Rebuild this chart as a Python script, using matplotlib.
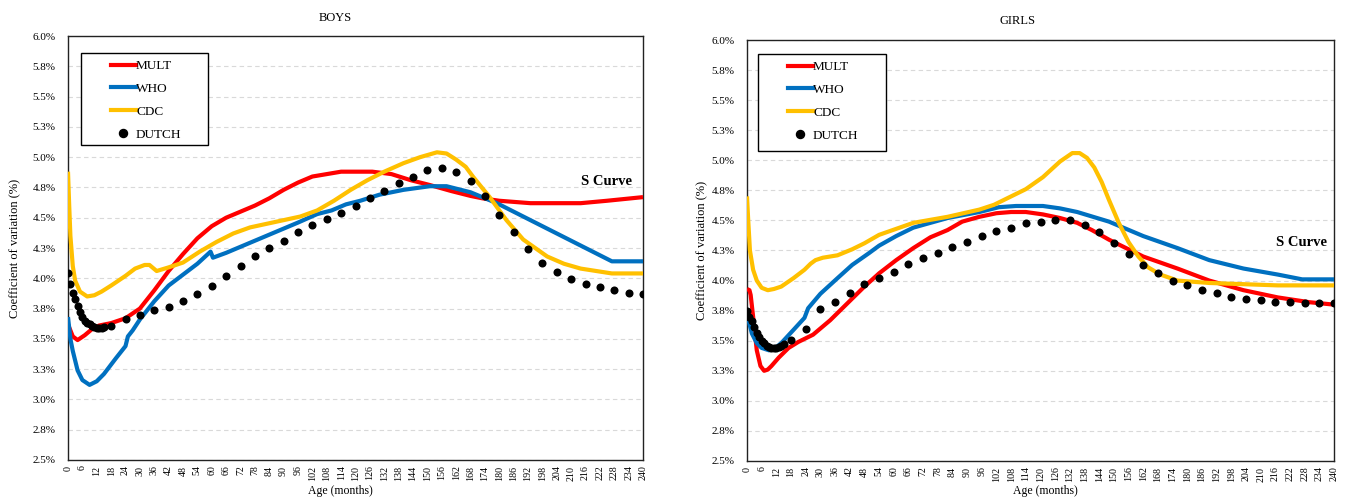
import matplotlib
matplotlib.use("Agg")
import matplotlib.pyplot as plt
from matplotlib.patches import Rectangle
from matplotlib.lines import Line2D

plt.rcParams['font.family'] = ['Liberation Serif', 'DejaVu Serif']

# ---------------- data ----------------
y_ticks = [2.5, 2.75, 3.0, 3.25, 3.5, 3.75, 4.0, 4.25, 4.5, 4.75, 5.0, 5.25, 5.5, 5.75, 6.0]
y_tick_labels = ["2.5%", "2.8%", "3.0%", "3.3%", "3.5%", "3.8%", "4.0%", "4.3%",
                 "4.5%", "4.8%", "5.0%", "5.3%", "5.5%", "5.8%", "6.0%"]
x_ticks = list(range(0, 241, 6))

# Boys
boys_mult_age = [0, 2, 4, 7, 10, 13, 18, 24, 30, 36, 42, 48, 54, 60, 66, 72, 78, 84, 90, 96,
                 102, 108, 114, 120, 127, 135, 143, 151, 160, 168, 173, 180, 193, 200, 214, 225, 240]
boys_mult = [3.62, 3.52, 3.49, 3.53, 3.58, 3.61, 3.63, 3.67, 3.75, 3.90, 4.06, 4.20, 4.33, 4.43,
             4.50, 4.55, 4.60, 4.66, 4.73, 4.79, 4.84, 4.86, 4.88, 4.88, 4.88, 4.86, 4.81, 4.77,
             4.72, 4.68, 4.66, 4.64, 4.62, 4.62, 4.62, 4.64, 4.67]

boys_who_age = [0, 1, 2, 4, 6, 9, 12, 15, 20, 24, 25, 27, 30, 36, 42, 48, 54, 59.5, 60.5, 66, 72,
                78, 84, 90, 96, 104, 110, 116, 122, 130, 140, 151, 158, 168, 179, 193, 207, 227, 240]
boys_who = [3.68, 3.50, 3.40, 3.24, 3.16, 3.12, 3.15, 3.21, 3.34, 3.44, 3.52, 3.57, 3.66, 3.81,
            3.94, 4.03, 4.12, 4.22, 4.17, 4.21, 4.26, 4.31, 4.36, 4.41, 4.46, 4.53, 4.56, 4.61,
            4.64, 4.69, 4.73, 4.76, 4.76, 4.71, 4.62, 4.48, 4.34, 4.14, 4.14]

boys_cdc_age = [0, 0.5, 1, 2, 3, 5, 8, 11, 14, 18, 24, 28, 32, 34, 37, 42, 48, 55, 62, 69, 76, 83,
                90, 97, 104, 111, 118, 125, 132, 140, 147, 154, 158, 162, 166, 169, 176, 183, 190,
                200, 207, 214, 227, 240]
boys_cdc = [4.88, 4.60, 4.35, 4.10, 3.98, 3.89, 3.85, 3.86, 3.89, 3.94, 4.02, 4.08, 4.11, 4.11,
            4.06, 4.09, 4.13, 4.22, 4.30, 4.37, 4.42, 4.45, 4.48, 4.51, 4.56, 4.64, 4.73, 4.81,
            4.88, 4.95, 5.00, 5.04, 5.03, 4.98, 4.92, 4.84, 4.67, 4.48, 4.32, 4.18, 4.12, 4.08,
            4.04, 4.04]

boys_dutch_age = list(range(0, 16)) + [18] + list(range(24, 241, 6))
boys_dutch = [4.04, 3.95, 3.88, 3.83, 3.77, 3.72, 3.68, 3.65, 3.63, 3.62, 3.61, 3.60, 3.59, 3.59,
              3.59, 3.60, 3.61, 3.66, 3.70, 3.74, 3.76, 3.81, 3.87, 3.94, 4.02, 4.10, 4.18, 4.25,
              4.31, 4.38, 4.44, 4.49, 4.54, 4.60, 4.66, 4.72, 4.79, 4.84, 4.89, 4.91, 4.88, 4.80,
              4.68, 4.52, 4.38, 4.24, 4.13, 4.05, 3.99, 3.95, 3.93, 3.90, 3.88, 3.87]

# Girls
girls_mult_age = [0, 1, 1.5, 2.5, 4, 5.5, 7, 8.5, 10, 13, 17, 21, 24, 27, 34, 41, 48, 54, 61, 68,
                  75, 82, 88, 95, 102, 108, 114, 121, 128, 135, 141, 148, 155, 162, 169, 176, 189,
                  203, 217, 230, 240]
girls_mult = [3.93, 3.92, 3.88, 3.70, 3.42, 3.29, 3.25, 3.26, 3.29, 3.36, 3.44, 3.49, 3.52, 3.55,
              3.67, 3.81, 3.95, 4.06, 4.17, 4.27, 4.36, 4.42, 4.49, 4.53, 4.56, 4.57, 4.57, 4.55,
              4.52, 4.48, 4.42, 4.34, 4.27, 4.20, 4.15, 4.10, 4.00, 3.92, 3.86, 3.82, 3.80]

girls_who_age = [0, 2, 4, 6, 9, 11, 14, 19, 23.5, 25, 30, 37, 43, 50, 54, 61, 68, 75, 82, 95, 103,
                 110, 121, 128, 135, 148, 162, 176, 189, 203, 217, 227, 240]
girls_who = [3.72, 3.56, 3.48, 3.44, 3.42, 3.43, 3.48, 3.59, 3.69, 3.77, 3.89, 4.02, 4.13, 4.23,
             4.29, 4.37, 4.44, 4.48, 4.52, 4.57, 4.61, 4.62, 4.62, 4.60, 4.57, 4.49, 4.37, 4.27,
             4.17, 4.10, 4.05, 4.01, 4.01]

girls_cdc_age = [0, 0.5, 1.2, 2.5, 4, 6, 8.5, 11, 14, 19, 23.5, 26, 28, 31, 37, 43, 48, 54, 61, 68,
                 82, 95, 101, 107, 114, 121, 128, 133, 136, 139, 142, 145, 148, 152, 156, 160, 164,
                 169, 176, 189, 217, 240]
girls_cdc = [4.70, 4.50, 4.25, 4.09, 4.00, 3.94, 3.92, 3.93, 3.95, 4.02, 4.09, 4.14, 4.17, 4.19,
             4.21, 4.26, 4.31, 4.38, 4.43, 4.48, 4.53, 4.59, 4.63, 4.69, 4.76, 4.86, 4.99, 5.06,
             5.06, 5.02, 4.94, 4.82, 4.67, 4.48, 4.32, 4.20, 4.11, 4.05, 4.00, 3.98, 3.96, 3.96]

girls_dutch_age = list(range(0, 16)) + [18] + list(range(24, 241, 6))
girls_dutch = [3.75, 3.70, 3.66, 3.61, 3.56, 3.53, 3.50, 3.48, 3.46, 3.45, 3.44, 3.44, 3.44, 3.45,
               3.46, 3.47, 3.51, 3.60, 3.76, 3.82, 3.90, 3.97, 4.02, 4.07, 4.14, 4.19, 4.23, 4.28,
               4.32, 4.37, 4.41, 4.44, 4.48, 4.49, 4.50, 4.50, 4.46, 4.40, 4.31, 4.22, 4.13, 4.06,
               4.00, 3.96, 3.92, 3.90, 3.86, 3.85, 3.84, 3.82, 3.82, 3.81, 3.81, 3.81]

series_names = ["MULT", "WHO", "CDC", "DUTCH"]
RED, BLUE, YELLOW = "#FF0000", "#0070C0", "#FFC000"

# ---------------- figure ----------------
W, H = 1346, 500
fig = plt.figure(figsize=(W / 100, H / 100), dpi=100)

def px_axes(l, t, r, b):
    return fig.add_axes([l / W, 1 - b / H, (r - l) / W, (b - t) / H])

ax_b = px_axes(68, 36, 643, 460)
ax_g = px_axes(747, 40, 1334, 461)

def draw(ax, mult, who, cdc, dutch, legend_box, scurve_xy, ylab_x, xlab_xy):
    ax.plot(mult[0], mult[1], color=RED, lw=3.0, solid_capstyle='butt', zorder=3)
    ax.plot(who[0], who[1], color=BLUE, lw=3.0, solid_capstyle='butt', zorder=3)
    ax.plot(cdc[0], cdc[1], color=YELLOW, lw=3.0, solid_capstyle='butt', zorder=3)
    ax.plot(dutch[0], dutch[1], 'o', color='black', ms=5.8, mec='none', zorder=4)
    ax.set_xlim(0, 240)
    ax.set_ylim(2.5, 6.0)
    ax.set_yticks(y_ticks)
    ax.set_yticklabels(y_tick_labels, fontsize=8)
    ax.set_xticks(x_ticks)
    ax.set_xticklabels([str(t) for t in x_ticks], rotation=90, fontsize=7.2)
    ax.tick_params(axis='both', length=0)
    ax.tick_params(axis='y', pad=9)
    ax.tick_params(axis='x', pad=4)
    ax.grid(axis='y', color='#D9D9D9', ls=(0, (4, 3)), lw=0.8, zorder=0)
    ax.set_axisbelow(True)
    for s in ax.spines.values():
        s.set_color('#222222')
        s.set_linewidth(1.0)
    ax.set_ylabel("Coefficient of variation (%)", fontsize=9)
    ax.yaxis.set_label_coords(ylab_x, 0.5)
    ax.set_xlabel("Age (months)", fontsize=8.5)
    ax.xaxis.set_label_coords(*xlab_xy)
    ax.text(scurve_xy[0], scurve_xy[1], "S Curve", transform=ax.transAxes,
            fontsize=10.5, fontweight='bold', ha='center', va='center')
    # legend
    handles = [Line2D([], [], color=RED, lw=3.0),
               Line2D([], [], color=BLUE, lw=3.0),
               Line2D([], [], color=YELLOW, lw=3.0),
               Line2D([], [], ls='none', marker='o', color='black', ms=5.8)]
    l, t, r, b = legend_box
    x0, x1 = ax.get_position().x0 * W, ax.get_position().x1 * W
    y0, y1 = (1 - ax.get_position().y1) * H, (1 - ax.get_position().y0) * H
    ax_l = (l - x0) / (x1 - x0)
    ax_r = (r - x0) / (x1 - x0)
    ax_t = (y1 - t) / (y1 - y0)
    ax_bt = (y1 - b) / (y1 - y0)
    ax.add_patch(Rectangle((ax_l, ax_bt), ax_r - ax_l, ax_t - ax_bt, transform=ax.transAxes,
                           fill=True, facecolor='white', edgecolor='black', lw=1.0, zorder=5))
    leg = ax.legend(handles, series_names, loc='upper left',
                    bbox_to_anchor=(ax_l + 26 / (x1 - x0), ax_t - 3 / (y1 - y0)),
                    frameon=False, fontsize=9.5, handlelength=1.9, handletextpad=0.0,
                    labelspacing=0.8, borderaxespad=0, borderpad=0.3)
    leg.set_zorder(6)

draw(ax_b, (boys_mult_age, boys_mult), (boys_who_age, boys_who), (boys_cdc_age, boys_cdc),
     (boys_dutch_age, boys_dutch), (81, 53, 208, 145), (0.937, 0.656), -0.082, (0.473, -0.059))
draw(ax_g, (girls_mult_age, girls_mult), (girls_who_age, girls_who), (girls_cdc_age, girls_cdc),
     (girls_dutch_age, girls_dutch), (758, 54, 886, 151), (0.945, 0.518), -0.066, (0.508, -0.057))

fig.text(335 / W, 1 - 18 / H, "BOYS", ha='center', va='center', fontsize=9)
fig.text(1018 / W, 1 - 21 / H, "GIRLS", ha='center', va='center', fontsize=9)

fig.savefig("out.png", dpi=100)
